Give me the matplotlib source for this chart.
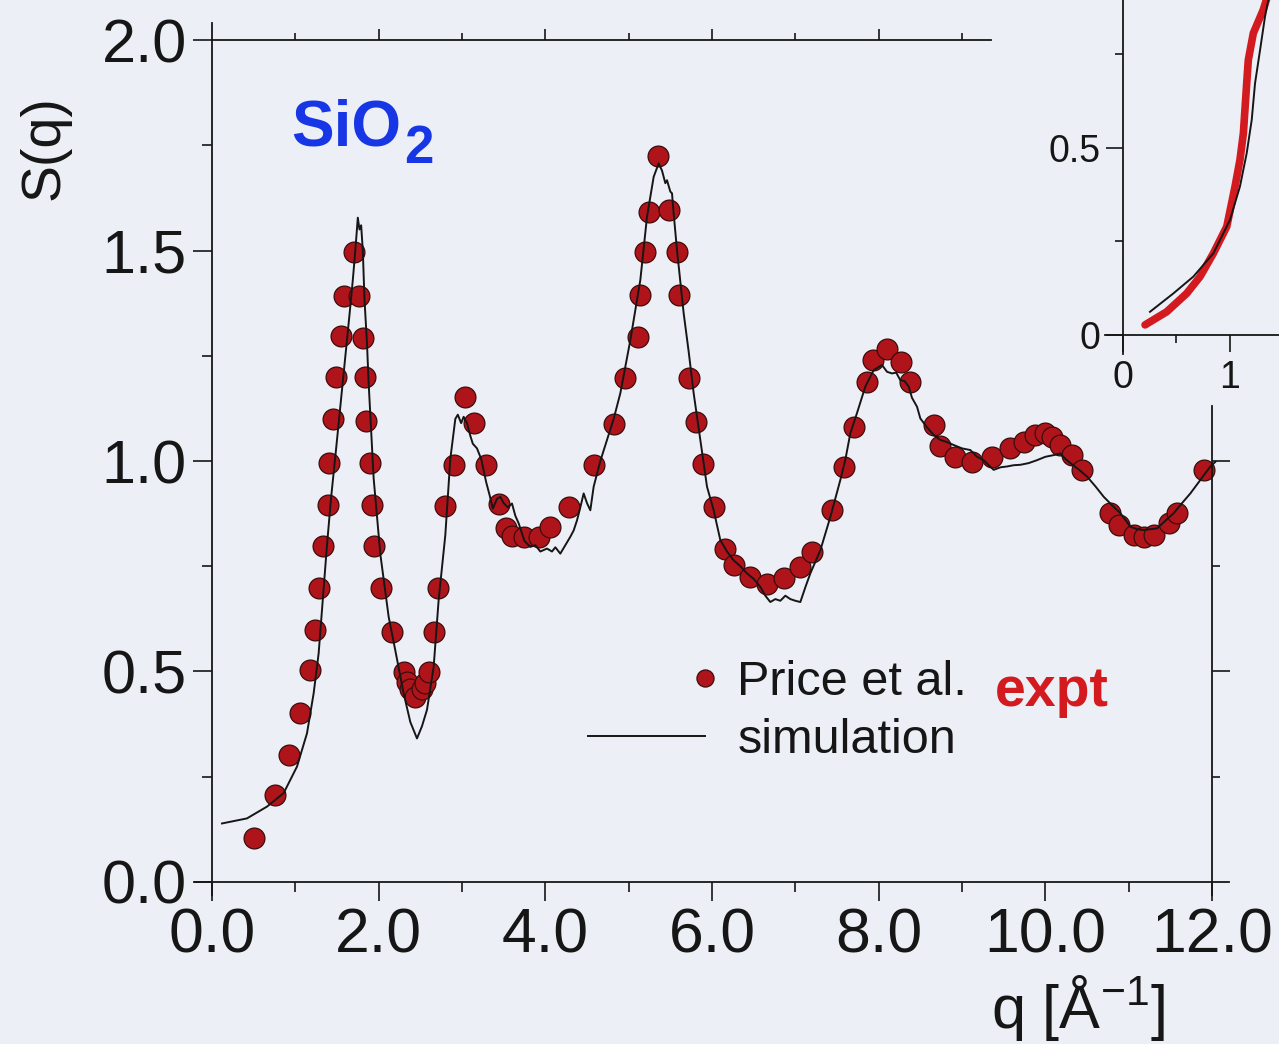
import numpy as np
import matplotlib
matplotlib.use("Agg")
import matplotlib.pyplot as plt
from matplotlib.legend_handler import HandlerLine2D
from matplotlib.lines import Line2D

plt.rcParams["font.family"] = ["Liberation Sans", "DejaVu Sans"]
plt.rcParams["mathtext.fontset"] = "custom"
plt.rcParams["mathtext.rm"] = "Liberation Sans"
plt.rcParams["mathtext.it"] = "Liberation Sans:italic"
plt.rcParams["mathtext.bf"] = "Liberation Sans:bold"

# ---------------------------------------------------------------- data
# neutron diffraction structure factor of vitreous silica (Price et al.)
q_expt = [0.50, 0.76, 0.92, 1.06, 1.18, 1.24, 1.29, 1.33, 1.39, 1.41,
          1.45, 1.49, 1.55, 1.59, 1.71, 1.77, 1.81, 1.84, 1.85, 1.90,
          1.92, 1.94, 2.03, 2.16, 2.30, 2.34, 2.38, 2.44, 2.52, 2.56,
          2.60, 2.66, 2.71, 2.80, 2.91, 3.04, 3.15, 3.29, 3.44, 3.53,
          3.60, 3.74, 3.92, 4.06, 4.28, 4.58, 4.82, 4.96, 5.11, 5.14,
          5.20, 5.25, 5.35, 5.48, 5.58, 5.61, 5.72, 5.81, 5.89, 6.02,
          6.16, 6.26, 6.46, 6.66, 6.86, 7.06, 7.20, 7.44, 7.58, 7.70,
          7.86, 7.93, 8.10, 8.27, 8.38, 8.66, 8.74, 8.92, 9.12, 9.36,
          9.58, 9.74, 9.88, 10.00, 10.08, 10.18, 10.32, 10.44, 10.78, 10.88,
          11.06, 11.18, 11.30, 11.48, 11.58, 11.90]
s_expt = [0.104, 0.207, 0.302, 0.401, 0.503, 0.599, 0.698, 0.797, 0.896, 0.995,
          1.099, 1.199, 1.298, 1.393, 1.496, 1.393, 1.293, 1.199, 1.095, 0.995,
          0.896, 0.797, 0.698, 0.594, 0.499, 0.476, 0.458, 0.440, 0.458, 0.472,
          0.499, 0.594, 0.698, 0.892, 0.990, 1.153, 1.090, 0.990, 0.897, 0.840,
          0.822, 0.820, 0.820, 0.844, 0.891, 0.990, 1.089, 1.196, 1.295, 1.394,
          1.497, 1.592, 1.724, 1.596, 1.497, 1.394, 1.196, 1.093, 0.994, 0.891,
          0.792, 0.753, 0.725, 0.709, 0.721, 0.749, 0.784, 0.884, 0.986, 1.081,
          1.188, 1.240, 1.267, 1.236, 1.188, 1.086, 1.036, 1.010, 0.998, 1.010,
          1.030, 1.046, 1.062, 1.066, 1.058, 1.038, 1.014, 0.979, 0.876, 0.848,
          0.824, 0.820, 0.824, 0.852, 0.876, 0.979]

# molecular dynamics result
q_sim = [0.12, 0.42, 0.66, 0.86, 1.02, 1.14, 1.22, 1.28, 1.33, 1.38,
         1.43, 1.49, 1.55, 1.60, 1.65, 1.69, 1.72, 1.75, 1.77, 1.79,
         1.81, 1.83, 1.86, 1.88, 1.94, 2.02, 2.12, 2.20, 2.30, 2.38,
         2.46, 2.52, 2.58, 2.66, 2.72, 2.80, 2.86, 2.92, 2.95, 2.99,
         3.02, 3.06, 3.10, 3.13, 3.18, 3.23, 3.29, 3.33, 3.37, 3.42,
         3.46, 3.50, 3.55, 3.60, 3.64, 3.68, 3.75, 3.82, 3.88, 3.94,
         4.02, 4.08, 4.12, 4.18, 4.24, 4.30, 4.34, 4.38, 4.42, 4.46,
         4.50, 4.54, 4.58, 4.66, 4.74, 4.82, 4.90, 5.02, 5.14, 5.22,
         5.30, 5.36, 5.40, 5.44, 5.46, 5.50, 5.52, 5.54, 5.58, 5.66,
         5.72, 5.78, 5.86, 5.94, 6.02, 6.10, 6.18, 6.26, 6.34, 6.42,
         6.50, 6.58, 6.64, 6.70, 6.76, 6.82, 6.88, 6.94, 7.00, 7.06,
         7.12, 7.18, 7.30, 7.42, 7.54, 7.60, 7.66, 7.74, 7.84, 7.94,
         8.04, 8.10, 8.16, 8.21, 8.26, 8.31, 8.36, 8.40, 8.46, 8.50,
         8.58, 8.66, 8.74, 8.82, 8.90, 9.00, 9.10, 9.18, 9.26, 9.32,
         9.38, 9.46, 9.54, 9.62, 9.70, 9.80, 9.90, 10.00, 10.10, 10.18,
         10.24, 10.30, 10.40, 10.50, 10.60, 10.70, 10.80, 10.90, 10.96, 11.02,
         11.10, 11.18, 11.26, 11.34, 11.44, 11.54, 11.64, 11.74, 11.86, 11.98,
         12.04]
s_sim = [0.139, 0.151, 0.179, 0.211, 0.274, 0.353, 0.448, 0.543, 0.670, 0.800,
         0.914, 1.030, 1.149, 1.250, 1.347, 1.430, 1.500, 1.578, 1.550, 1.560,
         1.500, 1.384, 1.280, 1.185, 0.959, 0.779, 0.630, 0.550, 0.448, 0.380,
         0.341, 0.370, 0.409, 0.511, 0.670, 0.824, 1.005, 1.100, 1.110, 1.090,
         1.105, 1.090, 1.060, 1.041, 1.030, 1.005, 0.950, 0.920, 0.887, 0.910,
         0.915, 0.900, 0.890, 0.899, 0.870, 0.852, 0.810, 0.796, 0.800, 0.785,
         0.792, 0.785, 0.795, 0.780, 0.800, 0.820, 0.835, 0.859, 0.890, 0.923,
         0.900, 0.883, 0.939, 1.000, 1.050, 1.100, 1.161, 1.287, 1.430, 1.580,
         1.675, 1.707, 1.690, 1.660, 1.667, 1.640, 1.636, 1.588, 1.501, 1.351,
         1.260, 1.161, 1.050, 0.939, 0.883, 0.812, 0.785, 0.764, 0.750, 0.733,
         0.720, 0.701, 0.680, 0.665, 0.672, 0.668, 0.680, 0.672, 0.668, 0.665,
         0.700, 0.733, 0.788, 0.867, 0.955, 1.003, 1.066, 1.114, 1.177, 1.216,
         1.228, 1.212, 1.208, 1.210, 1.192, 1.190, 1.177, 1.150, 1.129, 1.101,
         1.080, 1.062, 1.050, 1.045, 1.038, 1.030, 1.026, 1.010, 1.002, 0.990,
         0.979, 0.985, 0.987, 0.990, 0.991, 0.995, 1.002, 1.010, 1.014, 1.018,
         1.005, 0.995, 0.980, 0.963, 0.940, 0.915, 0.895, 0.876, 0.860, 0.844,
         0.838, 0.836, 0.838, 0.840, 0.858, 0.876, 0.900, 0.923, 0.955, 0.987,
         0.998]

# low-q region shown in the inset
q_inset_expt = [0.206, 0.408, 0.595, 0.720, 0.844, 0.970, 1.047, 1.093,
                1.125, 1.156, 1.171, 1.218, 1.310, 1.340, 1.420]
s_inset_expt = [0.027, 0.062, 0.111, 0.156, 0.218, 0.290, 0.397, 0.468,
                0.539, 0.673, 0.735, 0.807, 0.869, 0.896, 0.990]
q_inset_sim = [0.252, 0.470, 0.657, 0.844, 0.999, 1.093, 1.156, 1.203,
               1.234, 1.281, 1.327, 1.358, 1.400]
s_inset_sim = [0.062, 0.111, 0.156, 0.218, 0.307, 0.397, 0.486, 0.575,
               0.673, 0.762, 0.851, 0.896, 0.970]

x_major = [0, 2, 4, 6, 8, 10, 12]
x_major_labels = ["0.0", "2.0", "4.0", "6.0", "8.0", "10.0", "12.0"]
x_minor = [1, 3, 5, 7, 9, 11]
y_major = [0.0, 0.5, 1.0, 1.5, 2.0]
y_major_labels = ["0.0", "0.5", "1.0", "1.5", "2.0"]
y_minor = [0.25, 0.75, 1.25, 1.75]
top_major = [2, 4, 6, 8]
top_minor = [1, 3, 5, 7, 9]
right_major = [0.5, 1.0]
right_minor = [0.25, 0.75]
inset_x_major = [0, 1]
inset_x_labels = ["0", "1"]
inset_x_minor = [0.5]
inset_y_major = [0, 0.5]
inset_y_labels = ["0", "0.5"]
inset_y_minor = [0.25, 0.75]

# ---------------------------------------------------------------- style
W, H = 1279, 1044
BG = "#eceff5"
INK = "#161616"
DOT_FACE = "#b0141b"
DOT_EDGE = "#3d0b0b"
PEN_RED = "#d31a1f"
PEN_BLUE = "#1737e6"

fig = plt.figure(figsize=(W / 100, H / 100), dpi=100)
fig.patch.set_facecolor(BG)


def frame(left, right, top, bottom):
    """Axes rectangle from pixel edges."""
    return [left / W, 1 - bottom / H, (right - left) / W, (bottom - top) / H]


# main panel: q from -0.2 to 12.2, S from -0.03 to 2.04
ax = fig.add_axes(frame(195.3, 1228.7, 23.2, 894.6))
ax.set_xlim(-0.2, 12.2)
ax.set_ylim(-0.03, 2.04)
ax.patch.set_visible(False)
for side in ("top", "right"):
    ax.spines[side].set_visible(False)
for side in ("left", "bottom"):
    ax.spines[side].set_position(("data", 0))
    ax.spines[side].set_linewidth(1.3)
    ax.spines[side].set_color(INK)

ax.set_xticks(x_major)
ax.set_xticklabels(x_major_labels)
ax.set_xticks(x_minor, minor=True)
ax.set_yticks(y_major)
ax.set_yticklabels(y_major_labels)
ax.set_yticks(y_minor, minor=True)
ax.tick_params(which="major", direction="out", length=14, width=1.2, color=INK)
ax.tick_params(which="minor", direction="out", length=7, width=1.2, color=INK)
ax.tick_params(axis="x", which="major", labelsize=45, pad=4, labelcolor=INK)
ax.tick_params(axis="y", which="major", labelsize=44, pad=4, labelcolor=INK)

pts, = ax.plot(q_expt, s_expt, linestyle="none", marker="o", markersize=15,
               markerfacecolor=DOT_FACE, markeredgecolor=DOT_EDGE,
               markeredgewidth=0.9, zorder=2)
sim, = ax.plot(q_sim, s_sim, color=INK, linewidth=1.4, zorder=3)

# upper frame line with its own ticks
axt = ax.twiny()
axt.set_xlim(ax.get_xlim())
axt.patch.set_visible(False)
for side in ("left", "right", "bottom"):
    axt.spines[side].set_visible(False)
axt.spines["top"].set_position(("data", 2.0))
axt.spines["top"].set_bounds(0, 9.35)
axt.spines["top"].set_linewidth(1.3)
axt.spines["top"].set_color(INK)
axt.set_xticks(top_major)
axt.set_xticks(top_minor, minor=True)
axt.tick_params(which="both", direction="out", width=1.2, color=INK,
                labeltop=False, labelbottom=False)
axt.tick_params(which="major", length=8)
axt.tick_params(which="minor", length=5)

# right frame line, truncated below the inset
axr = ax.twinx()
axr.set_ylim(ax.get_ylim())
axr.patch.set_visible(False)
for side in ("left", "top", "bottom"):
    axr.spines[side].set_visible(False)
axr.spines["right"].set_position(("data", 12.0))
axr.spines["right"].set_bounds(-0.03, 1.13)
axr.spines["right"].set_linewidth(1.3)
axr.spines["right"].set_color(INK)
axr.set_yticks(right_major)
axr.set_yticks(right_minor, minor=True)
axr.tick_params(which="both", direction="out", width=1.2, color=INK,
                labelright=False, labelleft=False)
axr.tick_params(which="major", length=13)
axr.tick_params(which="minor", length=6)


class EndMarkerHandler(HandlerLine2D):
    """Legend handler drawing a single marker at the right end of the handle."""

    def create_artists(self, legend, orig_handle, xdescent, ydescent,
                       width, height, fontsize, trans):
        y = (height - ydescent) / 2
        mark = Line2D([width - xdescent], [y])
        self.update_prop(mark, orig_handle, legend)
        mark.set_markersize(mark.get_markersize() * legend.markerscale)
        mark.set_transform(trans)
        return [mark]


ax.legend([pts, sim], ["Price et al.", "simulation"],
          handler_map={pts: EndMarkerHandler()},
          loc="upper left", bbox_to_anchor=(588 / W, 1 - 660 / H),
          bbox_transform=fig.transFigure, frameon=False, fontsize=35,
          handlelength=2.41, handletextpad=0.66, labelspacing=0.27,
          borderpad=0, borderaxespad=0, markerscale=0.82, numpoints=1,
          labelcolor=INK)

# axis titles
fig.text(45 / W, 1 - 148 / H, "S(q)", rotation=90, ha="center", va="center",
         fontsize=40, color=INK)
fig.text(1078 / W, 1 - 1008 / H, r"q [Å$^{-1}$]", ha="center", va="center",
         fontsize=44, color=INK)

# annotations
fig.text(291 / W, 1 - 145 / H, "SiO", fontweight="bold",
         fontsize=46, color=PEN_BLUE, ha="left", va="baseline")
fig.text(404 / W, 1 - 163 / H, "2", fontweight="bold",
         fontsize=38, color=PEN_BLUE, ha="left", va="baseline")
fig.text(995 / W, 1 - 706 / H, "expt", fontweight="bold", fontsize=40,
         color=PEN_RED, ha="left", va="baseline")

# inset: low-q region, partly outside the page
ins = fig.add_axes(frame(1104.8, 1444.0, -226.0, 353.7))
ins.set_zorder(5)
ins.set_facecolor(BG)
ins.set_xlim(-0.17, 3.0)
ins.set_ylim(-0.05, 1.5)
for side in ("top", "right"):
    ins.spines[side].set_visible(False)
for side in ("left", "bottom"):
    ins.spines[side].set_position(("data", 0))
    ins.spines[side].set_linewidth(1.3)
    ins.spines[side].set_color(INK)
ins.set_xticks(inset_x_major)
ins.set_xticklabels(inset_x_labels)
ins.set_xticks(inset_x_minor, minor=True)
ins.set_yticks(inset_y_major)
ins.set_yticklabels(inset_y_labels)
ins.set_yticks(inset_y_minor, minor=True)
ins.tick_params(which="major", direction="out", length=12, width=1.2,
                color=INK, labelsize=27, labelcolor=INK)
ins.tick_params(which="minor", direction="out", length=6, width=1.2, color=INK)
ins.tick_params(axis="x", which="major", pad=6)
ins.tick_params(axis="y", which="major", pad=4)
ins.plot(q_inset_expt, s_inset_expt, color=PEN_RED, linewidth=5.5,
         solid_capstyle="round", zorder=2)
ins.plot(q_inset_sim, s_inset_sim, color=INK, linewidth=1.4, zorder=3)

fig.savefig("out.png", dpi=100, facecolor=BG)
